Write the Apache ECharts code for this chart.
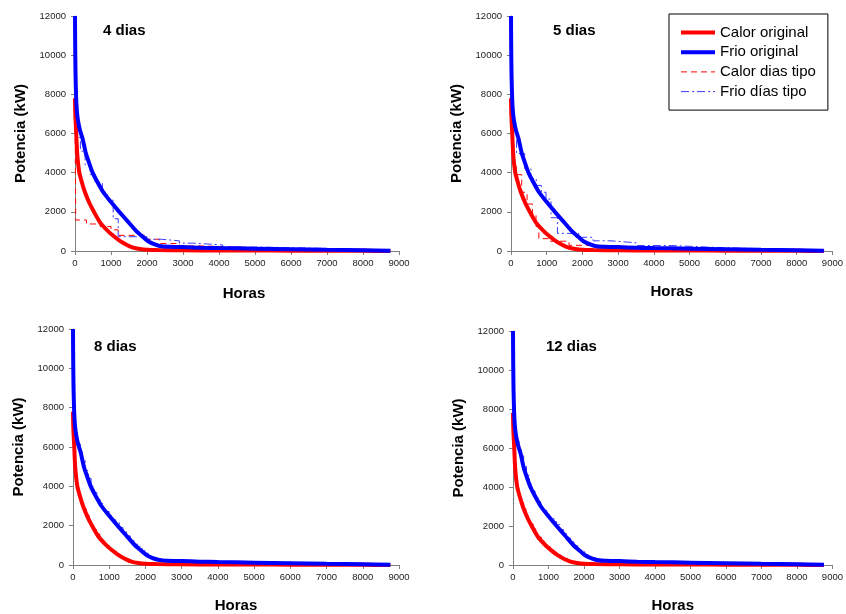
<!DOCTYPE html>
<html>
<head>
<meta charset="utf-8">
<script src="https://cdn.jsdelivr.net/npm/echarts@6/dist/echarts.min.js"></script>
<style>
  html, body { margin: 0; padding: 0; background: #fff; }
  #chart { width: 846px; height: 614px; }
</style>
</head>
<body>
<div id="chart"></div>
<script>
// curvas originales (horas ordenadas, potencia en kW)
const horasCalor = [0, 5, 15, 30, 60, 120, 200, 277, 400, 526, 700, 923, 1080, 1246, 1430, 1615, 1800, 2000, 2300, 3000, 4000, 5000, 6000, 7000, 8000, 8760]
const calorOriginal = [7800, 7200, 6700, 6200, 5000, 4000, 3450, 3000, 2450, 2000, 1450, 1000, 750, 515, 320, 170, 100, 60, 45, 35, 28, 22, 18, 14, 10, 0]
const horasFrio = [0, 5, 15, 30, 50, 80, 140, 210, 300, 400, 490, 600, 785, 1000, 1230, 1470, 1710, 1900, 2030, 2200, 2350, 2600, 3000, 3500, 4000, 5000, 6000, 7000, 8000, 8760]
const frioOriginal = [12000, 10500, 9000, 7900, 7200, 6700, 6150, 5750, 5000, 4450, 4000, 3600, 3000, 2500, 2000, 1500, 1000, 700, 500, 350, 260, 220, 200, 170, 150, 120, 90, 60, 40, 10]

// curvas con dias tipo [horas, kW], escalonadas
const calorTipo4 = [[0, 7800], [20, 1580], [320, 1380], [700, 1250], [1000, 1080], [1200, 800], [1985, 600], [2350, 380], [2900, 260], [3500, 200], [4500, 140], [5500, 100], [6500, 80], [7500, 60], [8760, 30]]
const frioTipo4 = [[0, 12000], [15, 8000], [40, 6800], [70, 5800], [150, 5100], [280, 4400], [420, 3900], [560, 3500], [760, 3000], [900, 2600], [1060, 1650], [1200, 730], [2000, 600], [2400, 520], [2900, 400], [3300, 310], [4100, 200], [5200, 150], [6500, 100], [7500, 60], [8760, 30]]
const calorTipo5 = [[0, 7800], [15, 5500], [60, 4300], [150, 3900], [300, 3000], [450, 2400], [600, 1900], [700, 1250], [780, 630], [1060, 500], [1625, 290], [2085, 200], [3000, 120], [4000, 80], [5500, 50], [7000, 30], [8760, 10]]
const frioTipo5 = [[0, 12000], [15, 8000], [40, 5650], [156, 4970], [385, 4200], [560, 3700], [707, 3350], [850, 3000], [980, 2650], [1120, 1700], [1300, 900], [1900, 700], [2300, 520], [2800, 420], [3500, 280], [4500, 200], [5500, 140], [6500, 100], [7500, 70], [8760, 30]]
const calorTipo8 = [[0, 7800], [15, 6000], [45, 5000], [75, 4500], [105, 4000], [140, 3700], [190, 3450], [240, 3150], [300, 2850], [370, 2550], [440, 2250], [510, 2000], [580, 1800], [650, 1580], [740, 1380], [820, 1150], [900, 1000], [1000, 850], [1100, 700], [1200, 560], [1300, 440], [1400, 340], [1500, 260], [1600, 180], [1700, 130], [1850, 90], [2000, 60], [2500, 45], [3500, 33], [5000, 24], [6500, 17], [8000, 10], [8760, 0]]
const frioTipo8 = [[0, 12000], [20, 8500], [50, 7200], [90, 6600], [140, 6150], [200, 5800], [260, 5300], [340, 4800], [420, 4400], [500, 4000], [580, 3680], [660, 3400], [740, 3130], [820, 2900], [900, 2720], [1000, 2500], [1100, 2300], [1180, 2180], [1280, 1900], [1380, 1700], [1480, 1480], [1580, 1270], [1680, 1060], [1780, 950], [1880, 820], [1980, 600], [2080, 440], [2200, 350], [2350, 265], [2600, 220], [3000, 200], [3500, 175], [4500, 140], [5500, 110], [6500, 80], [7500, 50], [8760, 15]]
const calorTipo12 = [[0, 7800], [10, 6400], [40, 5200], [70, 4600], [100, 4100], [140, 3750], [190, 3480], [240, 3200], [300, 2900], [360, 2600], [430, 2330], [500, 2100], [570, 1850], [640, 1650], [720, 1430], [800, 1230], [880, 1080], [960, 940], [1050, 800], [1150, 650], [1250, 510], [1350, 400], [1450, 305], [1550, 225], [1650, 160], [1780, 110], [1950, 70], [2500, 45], [3500, 33], [5000, 24], [6500, 17], [8000, 10], [8760, 0]]
const frioTipo12 = [[0, 12000], [15, 9000], [40, 7500], [70, 6850], [110, 6400], [170, 6000], [230, 5600], [300, 5050], [380, 4600], [460, 4150], [540, 3800], [620, 3520], [700, 3250], [780, 3020], [860, 2800], [950, 2600], [1050, 2400], [1150, 2220], [1230, 2080], [1320, 1820], [1420, 1600], [1520, 1380], [1620, 1180], [1720, 990], [1820, 830], [1920, 680], [2020, 520], [2120, 410], [2250, 320], [2400, 255], [2700, 215], [3200, 190], [4000, 155], [5000, 120], [6000, 90], [7000, 60], [8000, 40], [8760, 10]]

const paneles = ['4 dias', '5 dias', '8 dias', '12 dias']
const calorTipo = [calorTipo4, calorTipo5, calorTipo8, calorTipo12]
const frioTipo = [frioTipo4, frioTipo5, frioTipo8, frioTipo12]
const xTicks = { min: 0, max: 9000, interval: 1000 }
const yTicks = { min: 0, max: 12000, interval: 2000 }

const FONT = 'Liberation Sans, Arial, sans-serif'
const RED = '#ff0000'
const BLUE = '#0000ff'
const BLUE_TIPO = '#3b3bff'
const DASH_CALOR = [6, 4]
const DASH_FRIO = [8, 3, 2, 3]

// posiciones de los cuatro graficos
const grids = [
  { left: 75, top: 16, width: 324, height: 235 },
  { left: 511, top: 16, width: 327, height: 235 },
  { left: 73, top: 329, width: 326, height: 236 },
  { left: 513, top: 331, width: 326, height: 235 }
]
const titlePos = [[103, 23], [553, 23], [94, 339], [546, 339]]
const xNameGap = [35, 33, 33, 33]
const xNamePad = [[0, 0, 0, 14], 0, 0, 0]

const zip = (xs, ys) => xs.map((x, i) => [x, ys[i]])

const chart = echarts.init(document.getElementById('chart'))

const xAxis = grids.map((g, i) => ({
  type: 'value',
  gridIndex: i,
  min: xTicks.min, max: xTicks.max, interval: xTicks.interval,
  name: 'Horas',
  nameLocation: 'middle',
  nameGap: xNameGap[i],
  nameTextStyle: { fontFamily: FONT, fontSize: 15, fontWeight: 'bold', color: '#000', padding: xNamePad[i] },
  axisLine: { lineStyle: { color: '#808080', width: 1 } },
  axisTick: { show: true, length: 4, lineStyle: { color: '#808080' } },
  axisLabel: { fontFamily: FONT, fontSize: 9.5, color: '#222', margin: 7, formatter: v => String(v) },
  splitLine: { show: false }
}))

const yAxis = grids.map((g, i) => ({
  type: 'value',
  gridIndex: i,
  min: yTicks.min, max: yTicks.max, interval: yTicks.interval,
  name: 'Potencia (kW)',
  nameLocation: 'middle',
  nameGap: 47,
  nameTextStyle: { fontFamily: FONT, fontSize: 15, fontWeight: 'bold', color: '#000' },
  axisLine: { show: true, lineStyle: { color: '#808080', width: 1 } },
  axisTick: { show: true, length: 4, lineStyle: { color: '#808080' } },
  axisLabel: { fontFamily: FONT, fontSize: 9.5, color: '#222', margin: 9, formatter: v => String(v) },
  splitLine: { show: false }
}))

const series = []
grids.forEach((g, i) => {
  series.push({
    name: 'Calor dias tipo', type: 'line', xAxisIndex: i, yAxisIndex: i,
    data: calorTipo[i], step: 'end', symbol: 'none',
    lineStyle: { color: RED, width: 1, type: DASH_CALOR }, itemStyle: { color: RED }
  })
  series.push({
    name: 'Frio días tipo', type: 'line', xAxisIndex: i, yAxisIndex: i,
    data: frioTipo[i], step: 'end', symbol: 'none',
    lineStyle: { color: BLUE_TIPO, width: 1, type: DASH_FRIO }, itemStyle: { color: BLUE_TIPO }
  })
  series.push({
    name: 'Calor original', type: 'line', xAxisIndex: i, yAxisIndex: i,
    data: zip(horasCalor, calorOriginal), symbol: 'none', smooth: 0.2,
    lineStyle: { color: RED, width: 4 }, itemStyle: { color: RED }
  })
  series.push({
    name: 'Frio original', type: 'line', xAxisIndex: i, yAxisIndex: i,
    data: zip(horasFrio, frioOriginal), symbol: 'none', smooth: 0.2,
    lineStyle: { color: BLUE, width: 4 }, itemStyle: { color: BLUE }
  })
})

chart.setOption({
  animation: false,
  backgroundColor: '#fff',
  title: paneles.map((t, i) => ({
    text: t,
    left: titlePos[i][0],
    top: titlePos[i][1],
    padding: 0,
    textStyle: { fontFamily: FONT, fontSize: 15, fontWeight: 'bold', color: '#000' }
  })),
  legend: {
    data: [
      { name: 'Calor original', lineStyle: { color: RED, width: 4 } },
      { name: 'Frio original', lineStyle: { color: BLUE, width: 4 } },
      { name: 'Calor dias tipo', lineStyle: { color: RED, width: 1, type: DASH_CALOR } },
      { name: 'Frio días tipo', lineStyle: { color: BLUE_TIPO, width: 1, type: DASH_FRIO } }
    ],
    orient: 'vertical',
    left: 669,
    top: 14,
    itemWidth: 34,
    itemHeight: 14,
    itemGap: 4.7,
    padding: [11, 12, 11, 10],
    borderColor: '#000',
    borderWidth: 1,
    backgroundColor: '#fff',
    itemStyle: { opacity: 0 },
    textStyle: { fontFamily: FONT, fontSize: 15, color: '#000' }
  },
  grid: grids,
  xAxis: xAxis,
  yAxis: yAxis,
  series: series
})
</script>
</body>
</html>
